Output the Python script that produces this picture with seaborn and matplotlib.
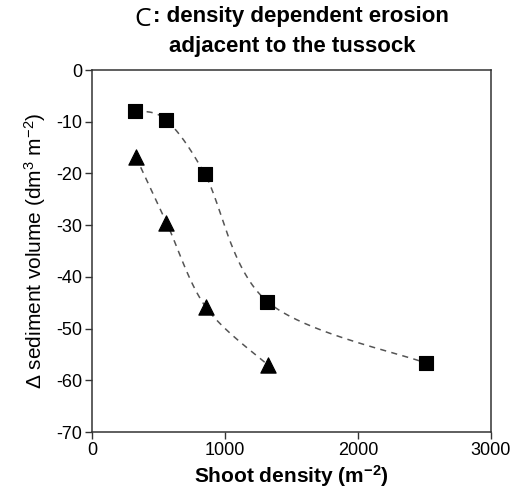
import numpy as np
import pandas as pd
import seaborn as sns
import matplotlib.pyplot as plt

# values
square_x = [325, 555, 850, 1320, 2515]
square_y = [-7.9, -9.6, -20.2, -44.8, -56.7]
triangle_x = [330, 560, 855, 1325]
triangle_y = [-16.8, -29.5, -45.8, -57.1]

x_ticks = [0, 1000, 2000, 3000]
y_ticks = [0, -10, -20, -30, -40, -50, -60, -70]


def smooth(xs, ys, n=40):
    # catmull-rom spline through the points (like Excel "smoothed line")
    p = np.column_stack([xs, ys]).astype(float)
    p = np.vstack([p[0], p, p[-1]])
    out = []
    for i in range(1, len(p) - 2):
        p0, p1, p2, p3 = p[i - 1], p[i], p[i + 1], p[i + 2]
        t = np.linspace(0, 1, n)[:, None]
        seg = 0.5 * ((2 * p1) + (-p0 + p2) * t + (2 * p0 - 5 * p1 + 4 * p2 - p3) * t ** 2
                     + (-p0 + 3 * p1 - 3 * p2 + p3) * t ** 3)
        out.append(seg)
    c = np.vstack(out)
    return c[:, 0], c[:, 1]


sns.set_style("ticks")
plt.rcParams['font.family'] = ['Liberation Sans', 'DejaVu Sans']
plt.rcParams['axes.unicode_minus'] = False
plt.rcParams['mathtext.default'] = 'regular'
plt.rcParams['text.color'] = 'black'
plt.rcParams['axes.labelcolor'] = 'black'

fig = plt.figure(figsize=(5.25, 4.98), dpi=100)
ax = fig.add_axes([0.1752, 0.1325, 0.7598, 0.7269])

for xs, ys in [(square_x, square_y), (triangle_x, triangle_y)]:
    cx, cy = smooth(xs, ys)
    sns.lineplot(x=cx, y=cy, sort=False, ax=ax, color='#555555',
                 linestyle=(0, (4, 3.5)), linewidth=1.1)

sns.scatterplot(x=square_x, y=square_y, marker='s', s=100, color='black',
                edgecolor='black', ax=ax, zorder=5)
sns.scatterplot(x=triangle_x, y=triangle_y, marker='^', s=120, color='black',
                edgecolor='black', ax=ax, zorder=5)

ax.set_xlim(0, 3000)
ax.set_ylim(-70, 0)
ax.set_xticks(x_ticks)
ax.set_yticks(y_ticks)
ax.tick_params(axis='both', labelsize=13, length=5, width=1, color='#333333',
               labelcolor='black', direction='out', pad=2)
for s in ax.spines.values():
    s.set_visible(True)
    s.set_color('#333333')
    s.set_linewidth(1.1)

ax.set_xlabel('Shoot density (m$^{-2}$)', fontsize=15, fontweight='bold', labelpad=3)
ax.set_ylabel('Δ sediment volume (dm$^{3}$ m$^{-2}$)', fontsize=15, labelpad=6)

fig.text(0.256, 0.961, 'C', fontsize=19, family='Open Sans', ha='left', va='center')
fig.text(0.291, 0.966, ': density dependent erosion', fontsize=16, fontweight='bold',
         ha='left', va='center')
fig.text(0.556, 0.906, 'adjacent to the tussock', fontsize=16, fontweight='bold',
         ha='center', va='center')

fig.savefig('out.png', dpi=100)
